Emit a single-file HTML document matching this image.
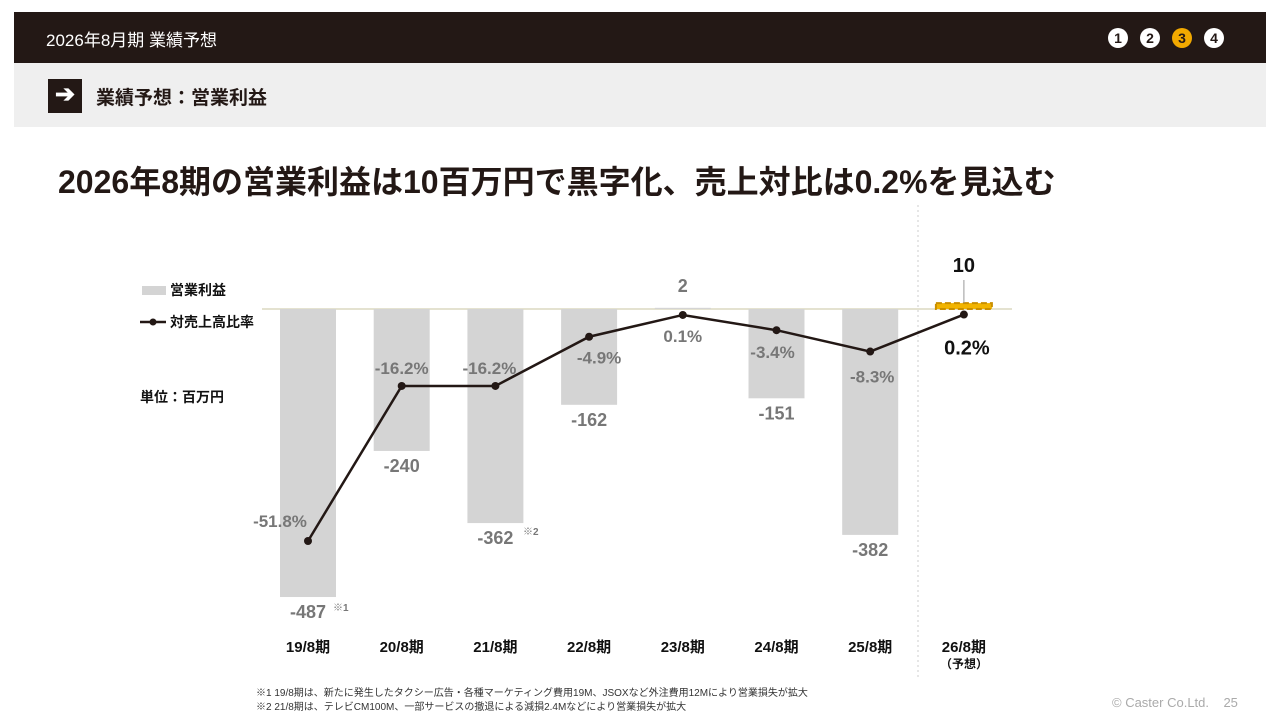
<!DOCTYPE html>
<html><head><meta charset="utf-8"><style>
body{margin:0;width:1280px;height:720px;background:#fff;font-family:"Liberation Sans","Noto Sans CJK JP",sans-serif;overflow:hidden;position:relative}
.hdr{position:absolute;left:14px;top:12px;width:1252px;height:51px;background:#231815;color:#fff}
.hdr .t{position:absolute;left:32px;top:14px;font-size:17px}
.dot{position:absolute;top:16px;width:20px;height:20px;border-radius:50%;background:#fff;color:#231815;font-weight:bold;font-size:14px;text-align:center;line-height:20px}
.sub{position:absolute;left:14px;top:63px;width:1252px;height:64px;background:#efefef}
.arrow{position:absolute;left:34px;top:16px;width:34px;height:34px;background:#231815;color:#fff;font-size:24px;text-align:center;line-height:32px;font-weight:bold}
.sub .t{position:absolute;left:82px;top:20px;font-size:19px;font-weight:bold;color:#231815}
h1{position:absolute;left:58px;top:157px;margin:0;font-size:32px;font-weight:bold;color:#231815;white-space:nowrap}
.note{position:absolute;left:256px;font-size:10px;color:#333}
.copy{position:absolute;left:1112px;top:695px;font-size:13px;color:#aaa}
</style></head><body>
<div class="hdr"><span class="t">2026年8月期 業績予想</span>
<div class="dot" style="left:1094px">1</div>
<div class="dot" style="left:1126px">2</div>
<div class="dot" style="left:1158px;background:#f2a900">3</div>
<div class="dot" style="left:1190px">4</div></div>
<div class="sub"><div class="arrow">➔</div><span class="t">業績予想：営業利益</span></div>
<h1>2026年8期の営業利益は10百万円で黒字化、売上対比は0.2%を見込む</h1>
<svg id="chart" width="1280" height="720" style="position:absolute;left:0;top:0"></svg>
<div class="note" style="top:684px">※1 19/8期は、新たに発生したタクシー広告・各種マーケティング費用19M、JSOXなど外注費用12Mにより営業損失が拡大</div>
<div class="note" style="top:698px">※2 21/8期は、テレビCM100M、一部サービスの撤退による減損2.4Mなどにより営業損失が拡大</div>
<div class="copy">© Caster Co.Ltd.&nbsp;&nbsp;&nbsp;&nbsp;25</div>
<script>
const categories=["19/8期","20/8期","21/8期","22/8期","23/8期","24/8期","25/8期","26/8期"];
const profit=[-487,-240,-362,-162,2,-151,-382,10];
const ratio=[-51.8,-16.2,-16.2,-4.9,0.1,-3.4,-8.3,0.2];
const profitLabels=["-487","-240","-362","-162","2","-151","-382","10"];
const ratioLabels=["-51.8%","-16.2%","-16.2%","-4.9%","0.1%","-3.4%","-8.3%","0.2%"];
const svg=document.getElementById('chart');const NS="http://www.w3.org/2000/svg";
function xs(i){return 308+i*93.7}
function yb(v){return 309-v*0.5914}
function yr(v){return 315.4-v*4.355}
function mk(t,a,txt){const e=document.createElementNS(NS,t);for(const k in a)e.setAttribute(k,a[k]);if(txt!=null)e.textContent=txt;svg.appendChild(e);return e}
let e;
e=mk('line',{x1:918,y1:205,x2:918,y2:680,stroke:'#ccc','stroke-dasharray':'2,3'});

e=mk('line',{x1:262,y1:309,x2:1012,y2:309,stroke:'#c9c4a0','stroke-width':1});

const F='"Liberation Sans","Noto Sans CJK JP",sans-serif';
profit.forEach((v,i)=>{const x=xs(i);const last=i===7;
 const y0=Math.min(yb(0),yb(v)),h=Math.max(Math.abs(yb(v)-yb(0)),1);
 e=mk('rect',{x:x-28,y:y0,width:56,height:h,fill:last?'#f2b400':'#d4d4d4',stroke:last?'#c98f00':'none','stroke-dasharray':last?'6,3':'', 'stroke-width':last?2:0});
 
 let ly=v<0?yb(v)+21:yb(v)-16, col=last?'#111':'#777';
 if(last){mk('line',{x1:x,y1:280,x2:x,y2:yb(v),stroke:'#999'});ly=272;}
 e=mk('text',{x:x,y:ly,'text-anchor':'middle','font-size':last?20:18,'font-weight':'bold',fill:col,'font-family':F},profitLabels[i]);
 
 e=mk('text',{x:x,y:652,'text-anchor':'middle','font-size':15,'font-weight':'bold',fill:'#111','font-family':F},categories[i]);
 
});
e=mk('text',{x:964,y:668,'text-anchor':'middle','font-size':12,'font-weight':'bold',fill:'#111','font-family':F},'（予想）');

e=mk('text',{x:333,y:611,'font-size':10,'font-weight':'bold',fill:'#777','font-family':F},'※1');

e=mk('text',{x:523,y:535,'font-size':10,'font-weight':'bold',fill:'#777','font-family':F},'※2');

e=mk('polyline',{points:ratio.map((v,i)=>xs(i)+','+yr(v)).join(' '),fill:'none',stroke:'#231815','stroke-width':2.5});

const off=[[-28,-14],[0,-12],[-6,-12],[10,27],[0,27],[-4,28],[2,31],[3,40]];
ratio.forEach((v,i)=>{const x=xs(i),y=yr(v);
 e=mk('circle',{cx:x,cy:y,r:4,fill:'#231815'});
 
 e=mk('text',{x:x+off[i][0],y:y+off[i][1],'text-anchor':'middle','font-size':i===7?20:17,'font-weight':'bold',fill:i===7?'#111':'#777','font-family':F},ratioLabels[i]);
 
});
e=mk('rect',{x:142,y:286,width:24,height:9,fill:'#d4d4d4'});

e=mk('text',{x:170,y:295,'font-size':14,'font-weight':'bold',fill:'#111','font-family':F},'営業利益');

e=mk('line',{x1:140,y1:322,x2:166,y2:322,stroke:'#231815','stroke-width':2.5});

mk('circle',{cx:153,cy:322,r:3.5,fill:'#231815'});
e=mk('text',{x:170,y:327,'font-size':14,'font-weight':'bold',fill:'#111','font-family':F},'対売上高比率');

e=mk('text',{x:140,y:402,'font-size':14,'font-weight':'bold',fill:'#111','font-family':F},'単位：百万円');

</script>
</body></html>
